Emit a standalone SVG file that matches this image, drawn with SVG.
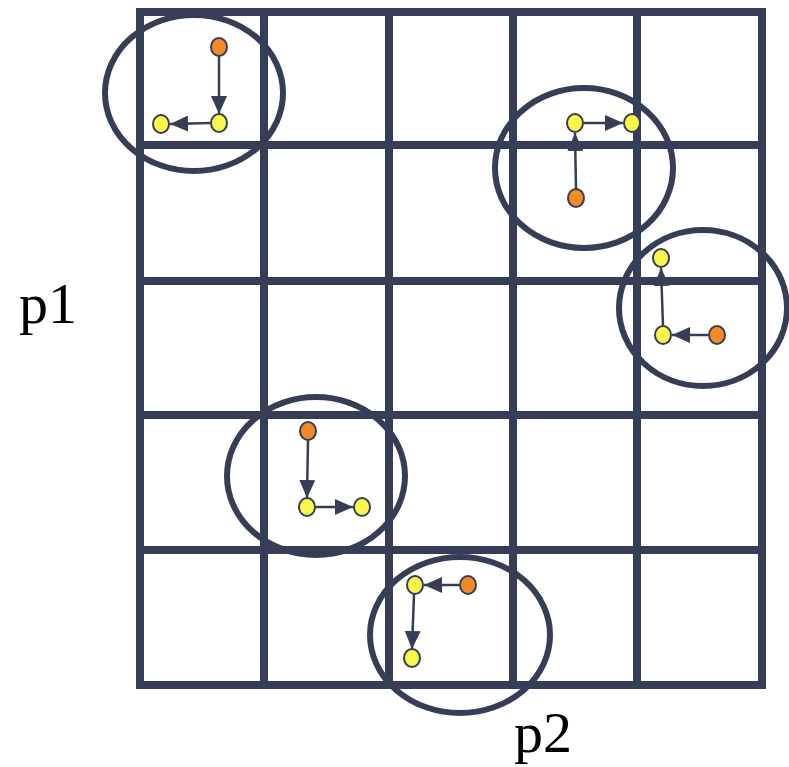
<svg xmlns="http://www.w3.org/2000/svg" width="789" height="767" viewBox="0 0 789 767">
<style>
.grid line{stroke:#363E57;stroke-width:8;stroke-linecap:butt}
.ring{fill:none;stroke:#363E57;stroke-width:6}
.y{fill:#FAF74A;stroke:#363E57;stroke-width:2}
.o{fill:#F28A26;stroke:#363E57;stroke-width:2}
.conn line{stroke:#363E57;stroke-width:2.5;marker-end:url(#ah)}
.lbl{font-family:"Liberation Serif",serif;font-size:58px;fill:#000}
</style>
<defs>
<marker id="ah" markerUnits="userSpaceOnUse" markerWidth="18" markerHeight="16" refX="18" refY="8" orient="auto">
<path d="M0,0 L18,8 L0,16 z" fill="#363E57"/>
</marker>
</defs>
<rect width="789" height="767" fill="#fff"/>
<g id="grid" class="grid">
<line x1="140" y1="8" x2="140" y2="689"/>
<line x1="264" y1="8" x2="264" y2="689"/>
<line x1="389" y1="8" x2="389" y2="689"/>
<line x1="513" y1="8" x2="513" y2="689"/>
<line x1="637" y1="8" x2="637" y2="689"/>
<line x1="762" y1="8" x2="762" y2="689"/>
<line x1="136" y1="12" x2="766" y2="12"/>
<line x1="136" y1="145" x2="766" y2="145"/>
<line x1="136" y1="281" x2="766" y2="281"/>
<line x1="136" y1="415" x2="766" y2="415"/>
<line x1="136" y1="550" x2="766" y2="550"/>
<line x1="136" y1="685" x2="766" y2="685"/>
</g>
<g id="rings">
<ellipse class="ring" cx="194" cy="93" rx="89" ry="78"/>
<ellipse class="ring" cx="584" cy="168" rx="89" ry="80"/>
<ellipse class="ring" cx="703" cy="308" rx="84" ry="78"/>
<ellipse class="ring" cx="316" cy="476" rx="89" ry="79"/>
<ellipse class="ring" cx="460" cy="635" rx="90" ry="78"/>
</g>
<g id="connectors" class="conn">
<line x1="219" y1="56" x2="219" y2="114"/>
<line x1="211" y1="123" x2="170" y2="124"/>
<line x1="584" y1="123" x2="623" y2="123"/>
<line x1="576" y1="189" x2="575" y2="133"/>
<line x1="663" y1="326" x2="661" y2="268"/>
<line x1="708" y1="335" x2="672" y2="335"/>
<line x1="308" y1="440" x2="307" y2="498"/>
<line x1="316" y1="507" x2="353" y2="507"/>
<line x1="459" y1="585" x2="424" y2="585"/>
<line x1="414" y1="594" x2="412" y2="649"/>
</g>
<g id="n1a"><ellipse class="o" cx="219" cy="47" rx="8" ry="9"/></g>
<g id="n1b"><ellipse class="y" cx="219" cy="123" rx="8" ry="9"/></g>
<g id="n1c"><ellipse class="y" cx="161" cy="124" rx="8" ry="9"/></g>
<g id="n2a"><ellipse class="y" cx="575" cy="123" rx="8" ry="9"/></g>
<g id="n2b"><ellipse class="y" cx="632" cy="123" rx="8" ry="9"/></g>
<g id="n2c"><ellipse class="o" cx="576" cy="198" rx="8" ry="9"/></g>
<g id="n3a"><ellipse class="y" cx="661" cy="258" rx="8" ry="9"/></g>
<g id="n3b"><ellipse class="y" cx="663" cy="335" rx="8" ry="9"/></g>
<g id="n3c"><ellipse class="o" cx="717" cy="335" rx="8" ry="9"/></g>
<g id="n4a"><ellipse class="o" cx="308" cy="431" rx="8" ry="9"/></g>
<g id="n4b"><ellipse class="y" cx="307" cy="507" rx="8" ry="9"/></g>
<g id="n4c"><ellipse class="y" cx="362" cy="507" rx="8" ry="9"/></g>
<g id="n5a"><ellipse class="y" cx="415" cy="585" rx="8" ry="9"/></g>
<g id="n5b"><ellipse class="o" cx="468" cy="585" rx="8" ry="9"/></g>
<g id="n5c"><ellipse class="y" cx="412" cy="658" rx="8" ry="9"/></g>
<text class="lbl" x="19" y="323">p1</text>
<text class="lbl" x="514" y="752">p2</text>
</svg>
